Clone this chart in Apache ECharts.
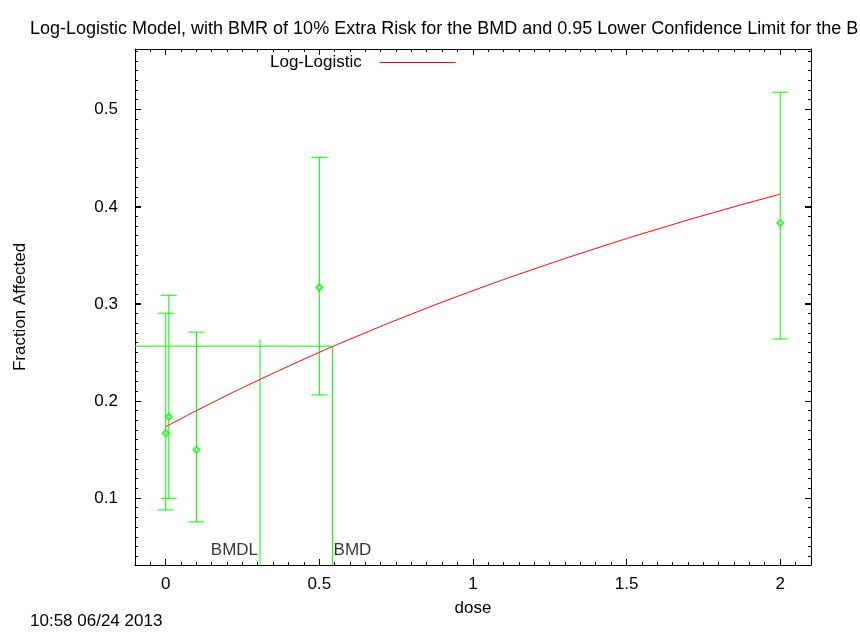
<!DOCTYPE html>
<html>
<head>
<meta charset="utf-8">
<script src="https://cdn.jsdelivr.net/npm/echarts@6/dist/echarts.min.js"></script>
<style>html,body{margin:0;padding:0;background:#fff}#c{width:860px;height:633px;background:#fff}</style>
</head>
<body>
<div id="c"></div>
<script>
const chartTitle = 'Log-Logistic Model, with BMR of 10% Extra Risk for the BMD and 0.95 Lower Confidence Limit for the BMDL';
const footerText = '10:58 06/24 2013';
const xName = 'dose';
const yName = 'Fraction Affected';
const modelName = 'Log-Logistic';

const doses = [0, 0.01, 0.1, 0.5, 2];
const fracObserved = [0.1669, 0.184, 0.150, 0.317, 0.3835];
const ciLower = [0.088, 0.100, 0.0756, 0.2064, 0.264];
const ciUpper = [0.2905, 0.309, 0.271, 0.451, 0.518];

const curveDose = [0, 0.05, 0.1, 0.2, 0.3, 0.4, 0.5, 0.6, 0.8, 1.0, 1.2, 1.4, 1.6, 1.8, 2.0];
const curveFrac = [0.1737, 0.1820, 0.1902, 0.2061, 0.2213, 0.2360, 0.2502, 0.2638, 0.2896, 0.3137, 0.3361, 0.3572, 0.3770, 0.3956, 0.4131];

const bmd = 0.543;
const bmdl = 0.307;
const bmrLevel = 0.2566;
const bmdlTop = 0.2637;
const bmdLabelY = 0.0465;

const xMin = -0.1, xMax = 2.1;
const yMin = 0.0313, yMax = 0.5625;
const xMajorTicks = [0, 0.5, 1, 1.5, 2];
const yMajorTicks = [0.1, 0.2, 0.3, 0.4, 0.5];
const xMinorTicks = [];
for (let i = -1; i <= 41; i++) { const v = +(i * 0.05).toFixed(2); if (xMajorTicks.indexOf(v) < 0 && v > xMin && v < xMax) xMinorTicks.push(v); }
const yMinorTicks = [];
for (let i = 4; i <= 56; i++) { const v = +(i * 0.01).toFixed(2); if (yMajorTicks.indexOf(v) < 0) yMinorTicks.push(v); }

const FONT = '"Liberation Sans", Arial, sans-serif';
const GREEN = '#00ff00';
const RED = '#ff0000';
const MAJOR_LEN = 6, MINOR_LEN = 3;

const errData = doses.map((d, i) => [d, ciLower[i], ciUpper[i]]);
const obsData = doses.map((d, i) => [d, fracObserved[i]]);
const curveData = curveDose.map((d, i) => [d, curveFrac[i]]);

function crisp(v) { return Math.round(v - 0.5) + 0.5; }

const chart = echarts.init(document.getElementById('c'), null, { renderer: 'canvas' });
chart.setOption({
  animation: false,
  title: [
    { text: chartTitle, left: 30, top: 20, padding: 0, textStyle: { fontSize: 18, fontWeight: 'normal', color: '#000', fontFamily: FONT } },
    { text: footerText, left: 30, top: 613, padding: 0, textStyle: { fontSize: 17, fontWeight: 'normal', color: '#000', fontFamily: FONT } }
  ],
  legend: {
    data: [{ name: modelName, icon: 'rect' }],
    left: 270, top: 54, padding: 0,
    align: 'right', itemWidth: 76, itemHeight: 1,
    itemStyle: { color: RED, borderWidth: 0 },
    textStyle: { fontSize: 17, color: '#000', fontFamily: FONT, padding: [0, 13, 0, 0] },
    selectedMode: false
  },
  grid: { left: 135, right: 49, top: 49, bottom: 68 },
  xAxis: [{
    type: 'value', position: 'bottom', min: xMin, max: xMax,
    name: xName, nameLocation: 'middle', nameGap: 35,
    nameTextStyle: { color: '#000', fontSize: 17, fontFamily: FONT },
    axisLine: { show: true, onZero: false, lineStyle: { color: '#000', width: 1 } },
    axisTick: { show: true, inside: true, length: MAJOR_LEN, customValues: xMajorTicks, lineStyle: { color: '#000' } },
    axisLabel: { show: true, customValues: xMajorTicks, margin: 11, color: '#000', fontSize: 17, fontFamily: FONT },
    splitLine: { show: false }
  }, {
    type: 'value', position: 'top', min: xMin, max: xMax,
    axisLine: { show: true, onZero: false, lineStyle: { color: '#000', width: 1 } },
    axisTick: { show: true, inside: true, length: MAJOR_LEN, customValues: xMajorTicks, lineStyle: { color: '#000' } },
    axisLabel: { show: false }, splitLine: { show: false }
  }],
  yAxis: [{
    type: 'value', position: 'left', min: yMin, max: yMax,
    name: yName, nameLocation: 'middle', nameGap: 106, nameRotate: 90,
    nameTextStyle: { color: '#000', fontSize: 17, fontFamily: FONT },
    axisLine: { show: true, onZero: false, lineStyle: { color: '#000', width: 1 } },
    axisTick: { show: true, inside: true, length: MAJOR_LEN, customValues: yMajorTicks, lineStyle: { color: '#000' } },
    axisLabel: { show: true, customValues: yMajorTicks, margin: 17, color: '#000', fontSize: 17, fontFamily: FONT },
    splitLine: { show: false }
  }, {
    type: 'value', position: 'right', min: yMin, max: yMax,
    axisLine: { show: true, onZero: false, lineStyle: { color: '#000', width: 1 } },
    axisTick: { show: true, inside: true, length: MAJOR_LEN, customValues: yMajorTicks, lineStyle: { color: '#000' } },
    axisLabel: { show: false }, splitLine: { show: false }
  }],
  series: [
    {
      name: modelName, type: 'line', data: curveData, smooth: true, symbol: 'none',
      lineStyle: { color: RED, width: 1 }, itemStyle: { color: RED }, z: 3
    },
    {
      name: 'ci', type: 'custom', data: errData, encode: { x: 0, y: [1, 2] },
      renderItem: function (params, api) {
        const x = api.value(0), lo = api.value(1), hi = api.value(2);
        const a = api.coord([x, lo]), b = api.coord([x, hi]);
        const hw = 8;
        const st = { stroke: GREEN, lineWidth: 1 };
        return {
          type: 'group', children: [
            { type: 'line', shape: { x1: a[0], y1: a[1], x2: b[0], y2: b[1] }, style: st },
            { type: 'line', shape: { x1: a[0] - hw, y1: a[1], x2: a[0] + hw, y2: a[1] }, style: st },
            { type: 'line', shape: { x1: b[0] - hw, y1: b[1], x2: b[0] + hw, y2: b[1] }, style: st }
          ]
        };
      },
      z: 2
    },
    {
      name: 'obs', type: 'scatter', data: obsData, symbol: 'emptyDiamond', symbolSize: 6,
      itemStyle: { color: GREEN, borderColor: GREEN, borderWidth: 1.2 }, z: 4
    },
    {
      name: 'bmrLine', type: 'line', data: [[xMin, bmrLevel], [bmd, bmrLevel], [bmd, yMin]],
      symbol: 'none', lineStyle: { color: GREEN, width: 1 }, z: 2
    },
    {
      name: 'bmdlLine', type: 'line', data: [[bmdl, bmdlTop], [bmdl, yMin]],
      symbol: 'none', lineStyle: { color: GREEN, width: 1 }, z: 2
    },
    {
      name: 'labels', type: 'scatter', symbolSize: 0,
      data: [
        { value: [bmdl, bmdLabelY], label: { show: true, formatter: 'BMDL', position: 'left', distance: 2, color: '#000' } },
        { value: [bmd, bmdLabelY], label: { show: true, formatter: 'BMD', position: 'right', distance: 1, color: '#000' } }
      ],
      label: { color: '#000', fontSize: 17, fontFamily: FONT },
      itemStyle: { color: 'transparent' }, z: 5
    }
  ]
});

// Mirrored inward tick marks (major + minor), positioned through the chart's own axis scales.
try {
  const els = [];
  const toPx = (p) => chart.convertToPixel({ gridIndex: 0 }, p);
  function addX(v, len) {
    const b = toPx([v, yMin]), t = toPx([v, yMax]);
    const x = crisp(b[0]);
    els.push({ type: 'line', z: 100, silent: true, shape: { x1: x, y1: b[1], x2: x, y2: b[1] - len }, style: { stroke: '#000', lineWidth: 1 } });
    els.push({ type: 'line', z: 100, silent: true, shape: { x1: x, y1: t[1], x2: x, y2: t[1] + len }, style: { stroke: '#000', lineWidth: 1 } });
  }
  function addY(v, len) {
    const l = toPx([xMin, v]), r = toPx([xMax, v]);
    const y = crisp(l[1]);
    els.push({ type: 'line', z: 100, silent: true, shape: { x1: l[0], y1: y, x2: l[0] + len, y2: y }, style: { stroke: '#000', lineWidth: 1 } });
    els.push({ type: 'line', z: 100, silent: true, shape: { x1: r[0], y1: y, x2: r[0] - len, y2: y }, style: { stroke: '#000', lineWidth: 1 } });
  }
  xMajorTicks.forEach(v => addX(v, MAJOR_LEN));
  xMinorTicks.forEach(v => addX(v, MINOR_LEN));
  yMajorTicks.forEach(v => addY(v, MAJOR_LEN));
  yMinorTicks.forEach(v => addY(v, MINOR_LEN));
  chart.setOption({ graphic: { elements: els } });
} catch (e) { /* keep chart as is */ }
</script>
</body>
</html>
